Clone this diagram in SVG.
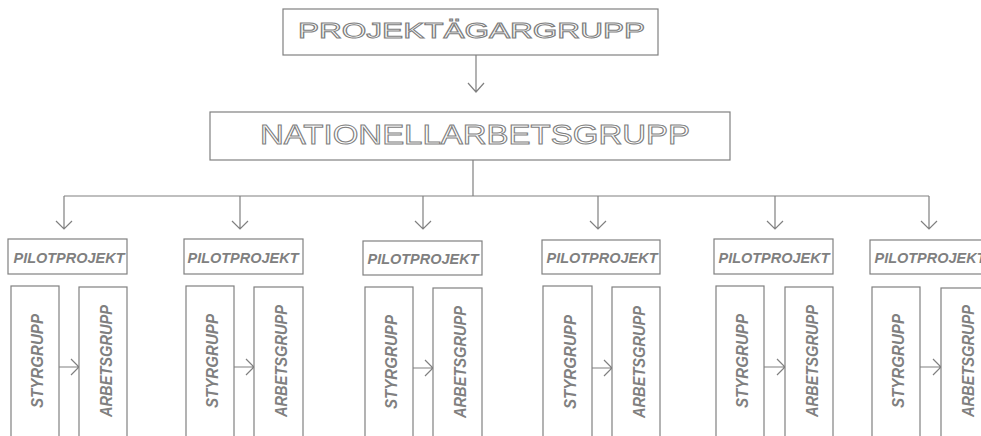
<svg xmlns="http://www.w3.org/2000/svg" width="981" height="436" viewBox="0 0 981 436">
<style>
.box{fill:#fff;stroke:#808080;stroke-width:1.2}
.ln{fill:none;stroke:#808080;stroke-width:1.2}
.out{font-family:"Liberation Sans",Arial,sans-serif;fill:#fff;stroke:#808080;stroke-width:1}
.pp{font-family:"Liberation Sans",Arial,sans-serif;font-weight:bold;font-style:italic;font-size:15.5px;fill:#808080;text-anchor:middle}
.vt{font-family:"Liberation Sans",Arial,sans-serif;font-weight:bold;font-style:italic;font-size:16.5px;fill:#808080;text-anchor:middle}
</style>
<rect width="981" height="436" fill="#fff"/>
<g id="connectors">
<path class="ln" d="M476,55V92M468,83L476,92L484,83"/>
<path class="ln" d="M473,160V196M64,196H929"/>
<path class="ln" d="M64,196V229M56,221L64,229L72,221"/>
<path class="ln" d="M240,196V229M232,221L240,229L248,221"/>
<path class="ln" d="M423,196V229M415,221L423,229L431,221"/>
<path class="ln" d="M598,196V229M590,221L598,229L606,221"/>
<path class="ln" d="M775,196V229M767,221L775,229L783,221"/>
<path class="ln" d="M929,196V229M921,221L929,229L937,221"/>
<path class="ln" d="M59,367H79M71,359L79,367L71,375"/>
<path class="ln" d="M234,367H254M246,359L254,367L246,375"/>
<path class="ln" d="M413,368H433M425,360L433,368L425,376"/>
<path class="ln" d="M592,368H612M604,360L612,368L604,376"/>
<path class="ln" d="M764,367H785M777,359L785,367L777,375"/>
<path class="ln" d="M920,367H941M933,359L941,367L933,375"/>
</g>
<g id="projektagargrupp">
<rect class="box" x="283" y="9" width="375" height="46"/>
<text class="out" x="298" y="37.5" font-size="22" textLength="347" lengthAdjust="spacingAndGlyphs">PROJEKTÄGARGRUPP</text>
</g>
<g id="nationellarbetsgrupp">
<rect class="box" x="210" y="112" width="520" height="48"/>
<text class="out" x="260" y="143.5" font-size="28" textLength="430" lengthAdjust="spacingAndGlyphs">NATIONELLARBETSGRUPP</text>
</g>
<g id="pilot1">
<rect class="box" x="8" y="239" width="119" height="35"/>
<text class="pp" x="69" y="262.5" textLength="111" lengthAdjust="spacingAndGlyphs">PILOTPROJEKT</text>
<rect class="box" x="11" y="286" width="48" height="160"/>
<text class="vt" transform="translate(42.5,361) rotate(-90)" textLength="94" lengthAdjust="spacingAndGlyphs">STYRGRUPP</text>
<rect class="box" x="79" y="287" width="48" height="160"/>
<text class="vt" transform="translate(111.5,361) rotate(-90)" textLength="112" lengthAdjust="spacingAndGlyphs">ARBETSGRUPP</text>
</g>
<g id="pilot2">
<rect class="box" x="184" y="239" width="119" height="35"/>
<text class="pp" x="243" y="262.5" textLength="111" lengthAdjust="spacingAndGlyphs">PILOTPROJEKT</text>
<rect class="box" x="186" y="286" width="48" height="160"/>
<text class="vt" transform="translate(217.5,361) rotate(-90)" textLength="94" lengthAdjust="spacingAndGlyphs">STYRGRUPP</text>
<rect class="box" x="254" y="287" width="49" height="160"/>
<text class="vt" transform="translate(286.5,361) rotate(-90)" textLength="112" lengthAdjust="spacingAndGlyphs">ARBETSGRUPP</text>
</g>
<g id="pilot3">
<rect class="box" x="363" y="241" width="119" height="34"/>
<text class="pp" x="423" y="263.5" textLength="111" lengthAdjust="spacingAndGlyphs">PILOTPROJEKT</text>
<rect class="box" x="365" y="287" width="48" height="160"/>
<text class="vt" transform="translate(396.5,362) rotate(-90)" textLength="94" lengthAdjust="spacingAndGlyphs">STYRGRUPP</text>
<rect class="box" x="433" y="288" width="49" height="160"/>
<text class="vt" transform="translate(465.5,362) rotate(-90)" textLength="112" lengthAdjust="spacingAndGlyphs">ARBETSGRUPP</text>
</g>
<g id="pilot4">
<rect class="box" x="542" y="240" width="118" height="34"/>
<text class="pp" x="602" y="262.5" textLength="111" lengthAdjust="spacingAndGlyphs">PILOTPROJEKT</text>
<rect class="box" x="543" y="286" width="49" height="160"/>
<text class="vt" transform="translate(575.5,362) rotate(-90)" textLength="94" lengthAdjust="spacingAndGlyphs">STYRGRUPP</text>
<rect class="box" x="612" y="287" width="48" height="160"/>
<text class="vt" transform="translate(644.5,362) rotate(-90)" textLength="112" lengthAdjust="spacingAndGlyphs">ARBETSGRUPP</text>
</g>
<g id="pilot5">
<rect class="box" x="714" y="239" width="119" height="35"/>
<text class="pp" x="774" y="262.5" textLength="111" lengthAdjust="spacingAndGlyphs">PILOTPROJEKT</text>
<rect class="box" x="716" y="286" width="48" height="160"/>
<text class="vt" transform="translate(747.5,361) rotate(-90)" textLength="94" lengthAdjust="spacingAndGlyphs">STYRGRUPP</text>
<rect class="box" x="785" y="287" width="48" height="160"/>
<text class="vt" transform="translate(817.5,361) rotate(-90)" textLength="112" lengthAdjust="spacingAndGlyphs">ARBETSGRUPP</text>
</g>
<g id="pilot6">
<rect class="box" x="870" y="240" width="119" height="34"/>
<text class="pp" x="930" y="262.5" textLength="111" lengthAdjust="spacingAndGlyphs">PILOTPROJEKT</text>
<rect class="box" x="872" y="287" width="48" height="160"/>
<text class="vt" transform="translate(903.5,361) rotate(-90)" textLength="94" lengthAdjust="spacingAndGlyphs">STYRGRUPP</text>
<rect class="box" x="941" y="288" width="48" height="160"/>
<text class="vt" transform="translate(973.5,361) rotate(-90)" textLength="112" lengthAdjust="spacingAndGlyphs">ARBETSGRUPP</text>
</g>
</svg>
